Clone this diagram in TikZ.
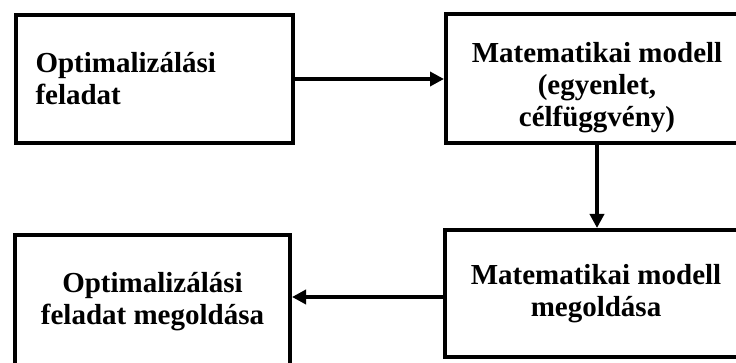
\documentclass[tikz,border=0pt]{standalone}
\usepackage{fontspec}
\setmainfont{Liberation Serif}
\usetikzlibrary{arrows.meta}

\begin{document}
\begin{tikzpicture}[x=1pt, y=-1pt, font=\fontsize{29}{32}\selectfont\bfseries,
        box/.style={draw, line width=4pt, inner sep=0pt, align=center},
        nyil/.style={line width=4pt, -{Triangle[length=14pt, width=14pt]}}]
        \useasboundingbox (0,0) rectangle (736,363);
        \node[box, minimum width=277pt, minimum height=128pt, text width=237pt, align=left]
            (f) at (154,79) {Optimalizálási\\feladat};
        \node[box, minimum width=302pt, minimum height=129pt] (m) at (597,78.5) {};
        \node[align=center] (mt) at (597,88) {Matematikai modell\\(egyenlet,\\célfüggvény)};
        \node[box, minimum width=302pt, minimum height=127pt] (mm) at (596,293.5) {Matematikai modell\\megoldása};
        \node[box, minimum width=275pt, minimum height=133pt] (fm) at (152.5,301.5) {Optimalizálási\\feladat megoldása};
        \draw[nyil] (f.east) -- (f.east -| m.west);
        \draw[nyil] (m.south) -- (m.south |- mm.north);
        \draw[nyil] (mm.west |- 0,297) -- (fm.east |- 0,297);
    \end{tikzpicture}
\end{document}
